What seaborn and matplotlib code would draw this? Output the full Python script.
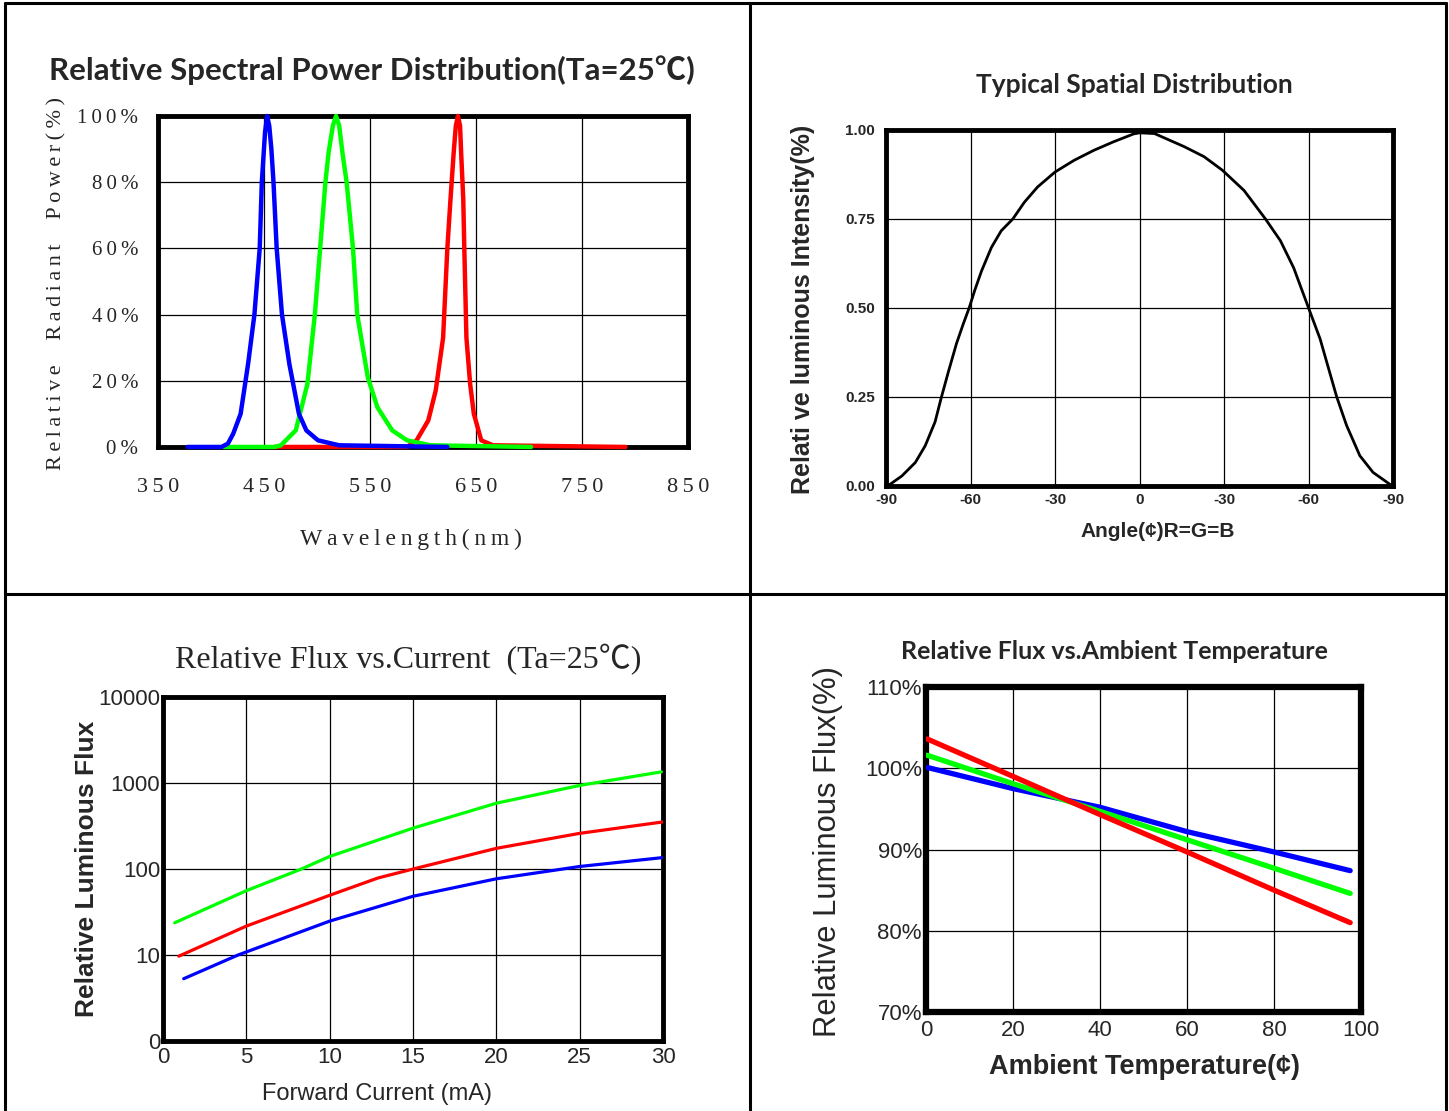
import numpy as np
import pandas as pd
import matplotlib.pyplot as plt
from matplotlib.lines import Line2D
import seaborn as sns

# ---- data ----
# relative spectral power (%), wavelength in nm
blue_wl = [378, 410, 416, 421, 428, 435, 441, 446, 448, 451, 453, 455, 457, 459, 462, 467, 474, 483, 490, 501, 521, 623]
blue_pw = [0, 0, 1, 4, 10, 25, 40, 60, 80, 95, 100, 97, 90, 80, 60, 40, 25, 10, 5, 2, 0.5, 0]
green_wl = [412, 460, 466, 480, 491, 498, 503, 508, 511, 515, 518, 521, 524, 528, 534, 538, 548, 557, 571, 585, 607, 702]
green_pw = [0, 0, 0.5, 5, 19, 40, 60, 80, 89, 97, 100, 97, 89, 80, 60, 40, 21, 12, 5, 2, 0.5, 0]
red_wl = [460, 585, 594, 605, 612, 619, 623, 626, 629, 631, 633, 635, 636, 638, 639, 641, 644.5, 648, 655, 666, 791]
red_pw = [0, 0, 2, 8, 17, 33, 60, 75, 89, 97, 100, 97, 89, 75, 60, 33, 19, 10, 2, 0.5, 0]
wl_ticks = [350, 450, 550, 650, 750, 850]
pw_ticks = [0, 20, 40, 60, 80, 100]
pw_labels = ['0%', '20%', '40%', '60%', '80%', '100%']

# spatial distribution, angle in degrees
angle = [-90, -88.5, -84.4, -79.6, -76.1, -72.6, -70.5, -67.9, -65, -62.6, -60.5, -58.5, -56.1, -52.6,
         -49.1, -45, -40.9, -36.2, -30, -23.2, -16.2, -9.2, -2.1, 0, 5.3, 15.9, 22.9, 29.4, 37.1,
         44.7, 50, 54.7, 60, 64.1, 67.1, 70, 73.5, 78.2, 82.9, 88.8, 90]
intensity = [0, 0.005, 0.028, 0.066, 0.113, 0.18, 0.245, 0.32, 0.40, 0.455, 0.50, 0.55, 0.604, 0.67,
             0.717, 0.75, 0.797, 0.84, 0.882, 0.915, 0.943, 0.967, 0.989, 0.992, 0.99, 0.953, 0.925, 0.887, 0.83,
             0.75, 0.689, 0.613, 0.5, 0.413, 0.33, 0.25, 0.17, 0.085, 0.038, 0.005, 0]
angle_ticks = [-90, -60, -30, 0, 30, 60, 90]
angle_labels = ['-90', '-60', '-30', '0', '-30', '-60', '-90']
int_ticks = [0, 0.25, 0.5, 0.75, 1.0]
int_labels = ['0.00', '0.25', '0.50', '0.75', '1.00']

# relative flux vs forward current (mA)
green_i = [0.7, 5, 8.3, 10, 15, 20, 25, 29.9]
green_flux = [23.7, 56, 100, 140, 299, 583, 938, 1349]
red_i = [0.95, 5, 10, 12.9, 15, 20, 25, 30]
red_flux = [9.7, 21.7, 49.5, 78.7, 100, 174, 260, 353]
blue_i = [1.24, 4.5, 10, 15, 20, 25, 30]
blue_flux = [5.3, 10, 24.8, 48.2, 77, 107, 136]
cur_ticks = [0, 5, 10, 15, 20, 25, 30]
flux_ticks = [1, 10, 100, 1000, 10000]
flux_labels = ['0', '10', '100', '1000', '10000']

# relative flux vs ambient temperature
temp = [0.3, 20, 40, 60, 80, 97.5]
blue_t = [100.1, 97.5, 95.2, 92.2, 89.7, 87.4]
green_t = [101.6, 98.1, 94.7, 91.2, 87.7, 84.6]
red_t = [103.6, 99.0, 94.3, 89.7, 85.0, 81.0]
temp_ticks = [0, 20, 40, 60, 80, 100]
rf_ticks = [70, 80, 90, 100, 110]
rf_labels = ['70%', '80%', '90%', '100%', '110%']

BLUE, GREEN, RED = '#0000ff', '#00ff00', '#ff0000'

sns.set_style('white')
plt.rcParams['font.family'] = ['Liberation Sans', 'Noto Sans CJK SC', 'DejaVu Sans']

SERIF = ['Liberation Serif', 'Noto Sans CJK SC', 'DejaVu Serif']
TITLE = ['Lato', 'Noto Sans CJK SC', 'DejaVu Sans']
NARROW = ['Liberation Sans Narrow', 'Liberation Sans', 'DejaVu Sans']


def spaced(s):
    return '\u2009'.join(s)


def frame(ax, lw):
    for sp in ax.spines.values():
        sp.set_visible(True)
        sp.set_color('black')
        sp.set_linewidth(lw)
    ax.grid(True, color='black', lw=0.9)
    ax.set_axisbelow(True)
    ax.tick_params(length=0)


fig = plt.figure(figsize=(14.49, 11.11), dpi=100)

# table cell borders
for x0, y0, x1, y1 in [(0.0035, 0, 0.0035, 0.9973), (0.9979, 0, 0.9979, 0.9973),
                       (0.0035, 0.9973, 0.9979, 0.9973), (0.5176, 0, 0.5176, 0.9973),
                       (0.0035, 0.4653, 0.9979, 0.4653)]:
    fig.add_artist(Line2D([x0, x1], [y0, y1], transform=fig.transFigure, color='black', lw=2.2))

# ---------- spectral power distribution ----------
ax1 = fig.add_axes([0.1090, 0.5977, 0.3658, 0.2979])
for wl, pw, c in [(red_wl, red_pw, RED), (green_wl, green_pw, GREEN), (blue_wl, blue_pw, BLUE)]:
    sns.lineplot(x=wl, y=pw, ax=ax1, color=c, lw=3.2, sort=False, legend=False,
                 clip_on=False, zorder=3)
ax1.set_xlim(350, 850)
ax1.set_ylim(0, 100)
frame(ax1, 3.5)
ax1.set_xticks(wl_ticks, [spaced(str(t)) for t in wl_ticks], fontfamily=SERIF, fontsize=16)
ax1.set_yticks(pw_ticks, [spaced(t) for t in pw_labels], fontfamily=SERIF, fontsize=15)
ax1.tick_params(axis='x', pad=22)
ax1.tick_params(axis='y', pad=14)
ax1.set_xlabel(spaced('Wavelength(nm)'), fontfamily=SERIF, fontsize=17, va='center')
ax1.xaxis.set_label_coords(0.477, -0.278)
ax1.set_ylabel(spaced('Relative  Radiant  Power(%)'), fontfamily=SERIF, fontsize=16, va='center')
ax1.yaxis.set_label_coords(-0.19, 0.495)
ax1.text(0.404, 1.139, 'Relative Spectral Power Distribution(Ta=25℃)', transform=ax1.transAxes,
         ha='center', va='center', fontsize=22.5, fontweight='bold', fontfamily=TITLE)

# ---------- spatial distribution ----------
ax2 = fig.add_axes([0.6115, 0.5626, 0.3499, 0.3204])
sns.lineplot(x=angle, y=intensity, ax=ax2, color='black', lw=2.0, sort=False, legend=False, zorder=3)
ax2.set_xlim(-90, 90)
ax2.set_ylim(0, 1.0)
frame(ax2, 3.5)
ax2.set_xticks(angle_ticks, angle_labels, fontsize=11, fontweight='bold')
ax2.set_yticks(int_ticks, int_labels, fontsize=11, fontweight='bold')
ax2.tick_params(axis='x', pad=5)
ax2.tick_params(axis='y', pad=8)
ax2.set_xlabel('Angle(¢)R=G=B', fontsize=15, fontweight='bold', va='center')
ax2.xaxis.set_label_coords(0.536, -0.129)
ax2.set_ylabel('Relati ve luminous Intensity(%)', fontsize=18, fontweight='bold', va='center')
ax2.yaxis.set_label_coords(-0.164, 0.497)
ax2.text(0.489, 1.126, 'Typical Spatial Distribution', transform=ax2.transAxes,
         ha='center', va='center', fontsize=19, fontweight='bold', fontfamily=TITLE)

# ---------- flux vs current ----------
ax3 = fig.add_axes([0.1125, 0.0630, 0.3451, 0.3096])
for cur, flux, c in [(green_i, green_flux, GREEN), (red_i, red_flux, RED), (blue_i, blue_flux, BLUE)]:
    sns.lineplot(x=cur, y=flux, ax=ax3, color=c, lw=2.3, sort=False, legend=False, zorder=3)
ax3.set_yscale('log')
ax3.set_xlim(0, 30)
ax3.set_ylim(1, 10000)
frame(ax3, 3.5)
ax3.minorticks_off()
ax3.set_xticks(cur_ticks, [str(t) for t in cur_ticks], fontsize=16, fontfamily=NARROW)
ax3.set_yticks(flux_ticks, flux_labels, fontsize=16, fontfamily=NARROW)
ax3.tick_params(axis='x', pad=4)
ax3.tick_params(axis='y', pad=2)
ax3.set_xlabel('Forward Current (mA)', fontsize=17, va='center')
ax3.xaxis.set_label_coords(0.428, -0.154)
ax3.set_ylabel('Relative Luminous Flux', fontsize=19, fontweight='bold', va='center')
ax3.yaxis.set_label_coords(-0.152, 0.5)
ax3.text(0.49, 1.108, 'Relative Flux vs.Current  (Ta=25℃)', transform=ax3.transAxes,
         ha='center', va='center', fontsize=23, fontfamily=SERIF)

# ---------- flux vs ambient temperature ----------
ax4 = fig.add_axes([0.6391, 0.0891, 0.3002, 0.2925])
for t, v, c in [(temp, blue_t, BLUE), (temp, green_t, GREEN), (temp, red_t, RED)]:
    sns.lineplot(x=t, y=v, ax=ax4, color=c, lw=3.8, sort=False, legend=False, zorder=3)
ax4.set_xlim(0, 100)
ax4.set_ylim(70, 110)
frame(ax4, 4.5)
ax4.set_xticks(temp_ticks, [str(t) for t in temp_ticks], fontsize=16, fontfamily=NARROW)
ax4.set_yticks(rf_ticks, rf_labels, fontsize=16, fontfamily=NARROW)
ax4.tick_params(axis='x', pad=6)
ax4.tick_params(axis='y', pad=3)
ax4.set_xlabel('Ambient Temperature(¢)', fontsize=19.5, fontweight='bold', va='center')
ax4.xaxis.set_label_coords(0.503, -0.169)
ax4.set_ylabel('Relative Luminous Flux(%)', fontsize=22.3, va='center')
ax4.yaxis.set_label_coords(-0.225, 0.495)
ax4.text(0.434, 1.108, 'Relative Flux vs.Ambient Temperature', transform=ax4.transAxes,
         ha='center', va='center', fontsize=18, fontweight='bold', fontfamily=TITLE)

fig.savefig('out.png', dpi=100)
